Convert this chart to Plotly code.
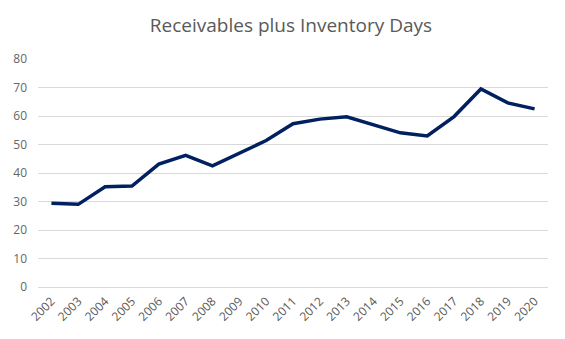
import plotly.graph_objects as go

years = [str(y) for y in range(2002, 2021)]
days = [29.4, 29.0, 35.2, 35.4, 43.1, 46.2, 42.5, 46.9, 51.4, 57.3,
        58.9, 59.7, 57.0, 54.1, 53.0, 59.8, 69.5, 64.6, 62.5]
y_ticks = [0, 10, 20, 30, 40, 50, 60, 70, 80]

fig = go.Figure()
fig.add_trace(go.Scatter(
    x=years, y=days, mode="lines",
    line=dict(color="#002060", width=3.5),
    hoverinfo="x+y",
))

fig.update_layout(
    width=565, height=339,
    margin=dict(l=38, r=17, t=59, b=52),
    paper_bgcolor="white", plot_bgcolor="white",
    title=dict(text="Receivables plus Inventory Days", x=0.515, xanchor="center",
               y=0.925, yanchor="middle",
               font=dict(family="Open Sans", size=19, color="#595959")),
    showlegend=False,
    font=dict(family="Open Sans", color="#595959", size=12),
)
fig.update_xaxes(
    type="category", tickangle=-45, showgrid=False,
    showline=False, ticks="", ticklabelstandoff=4,
    tickfont=dict(size=12, color="#595959"),
    range=[-0.5, len(years) - 0.5],
)
fig.update_yaxes(
    range=[0, 80], tickvals=y_ticks, showgrid=True, gridcolor="#d9d9d9",
    gridwidth=1, zeroline=True, zerolinecolor="#d9d9d9", zerolinewidth=1,
    showline=False, ticks="", ticklabelstandoff=10,
    tickfont=dict(size=12, color="#666666"),
)

fig.write_html("out.html")
